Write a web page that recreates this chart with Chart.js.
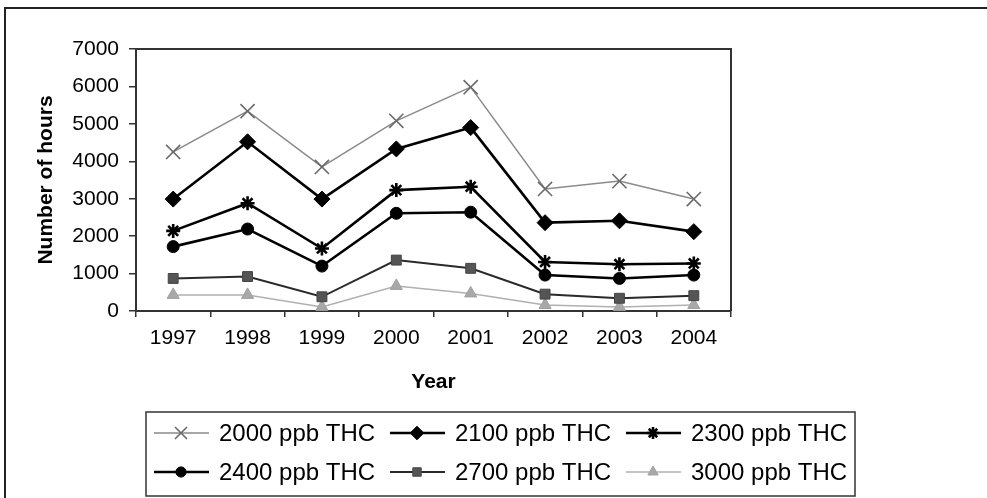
<!DOCTYPE html>
<html>
<head>
<meta charset="utf-8">
<script src="https://cdn.jsdelivr.net/npm/chart.js@4/dist/chart.umd.min.js"></script>
<style>
html,body{margin:0;padding:0;background:#fff;}
#wrap{width:987px;height:498px;position:relative;}
</style>
</head>
<body>
<div id="wrap"><canvas id="c" width="987" height="498"></canvas></div>
<script>
const years = ['1997','1998','1999','2000','2001','2002','2003','2004'];
const seriesNames = ['2000 ppb THC','2100 ppb THC','2300 ppb THC','2400 ppb THC','2700 ppb THC','3000 ppb THC'];
const thc2000 = [4250, 5340, 3850, 5080, 5980, 3260, 3470, 2990];
const thc2100 = [2990, 4520, 2990, 4330, 4900, 2360, 2410, 2120];
const thc2300 = [2140, 2880, 1670, 3230, 3320, 1310, 1250, 1270];
const thc2400 = [1720, 2190, 1200, 2610, 2640, 960, 870, 960];
const thc2700 = [870, 920, 380, 1360, 1140, 450, 340, 410];
const thc3000 = [430, 430, 110, 670, 470, 160, 110, 160];
const yTicks = [0, 1000, 2000, 3000, 4000, 5000, 6000, 7000];

const FONT = "'Liberation Sans', Arial, Helvetica, sans-serif";

const styles = [
  {line:'#8a8a8a', lw:1.5, pt:'crossRot', r:10, fill:'#777', stroke:'#6a6a6a', pbw:1.6},
  {line:'#000', lw:2.6, pt:'rectRot', r:8, fill:'#000', stroke:'#000', pbw:1},
  {line:'#000', lw:2.6, pt:'star', r:7, fill:'#000', stroke:'#000', pbw:2.6},
  {line:'#000', lw:2.6, pt:'circle', r:6, fill:'#000', stroke:'#000', pbw:1},
  {line:'#2a2a2a', lw:2, pt:'rect', r:7, fill:'#555', stroke:'#444', pbw:1},
  {line:'#b0b0b0', lw:1.5, pt:'triangle', r:7, fill:'#a8a8a8', stroke:'#a0a0a0', pbw:1}
];
const allData = [thc2000, thc2100, thc2300, thc2400, thc2700, thc3000];

const datasets = allData.map((d,i)=>({
  label: seriesNames[i],
  data: d,
  borderColor: styles[i].line,
  borderWidth: styles[i].lw,
  backgroundColor: styles[i].fill,
  pointStyle: styles[i].pt,
  pointRadius: styles[i].r,
  pointHoverRadius: styles[i].r,
  pointBackgroundColor: styles[i].fill,
  pointBorderColor: styles[i].stroke,
  pointBorderWidth: styles[i].pbw,
  tension: 0,
  fill: false
}));

function drawMarker(ctx, style, x, y, r, fill, stroke, bw){
  ctx.save();
  ctx.fillStyle = fill; ctx.strokeStyle = stroke; ctx.lineWidth = bw;
  ctx.beginPath();
  if (style==='circle'){ ctx.arc(x,y,r,0,Math.PI*2); ctx.fill(); ctx.stroke(); }
  else if (style==='rect'){ const s=r*Math.SQRT1_2; ctx.rect(x-s,y-s,2*s,2*s); ctx.fill(); ctx.stroke(); }
  else if (style==='rectRot'){ ctx.moveTo(x,y-r);ctx.lineTo(x+r,y);ctx.lineTo(x,y+r);ctx.lineTo(x-r,y);ctx.closePath(); ctx.fill(); ctx.stroke(); }
  else if (style==='triangle'){ ctx.moveTo(x,y-r);ctx.lineTo(x+r*0.866,y+r*0.5);ctx.lineTo(x-r*0.866,y+r*0.5);ctx.closePath(); ctx.fill(); ctx.stroke(); }
  else if (style==='crossRot'){ const o=r*Math.SQRT1_2; ctx.moveTo(x-o,y-o);ctx.lineTo(x+o,y+o);ctx.moveTo(x+o,y-o);ctx.lineTo(x-o,y+o); ctx.stroke(); }
  else if (style==='star'){ const o=r*Math.SQRT1_2; ctx.moveTo(x,y-r);ctx.lineTo(x,y+r);ctx.moveTo(x-r,y);ctx.lineTo(x+r,y);ctx.moveTo(x-o,y-o);ctx.lineTo(x+o,y+o);ctx.moveTo(x+o,y-o);ctx.lineTo(x-o,y+o); ctx.stroke(); }
  ctx.restore();
}

const framePlugin = {
  id:'frame',
  beforeDatasetsDraw(chart){
    const {ctx, chartArea:a} = chart;
    ctx.save();
    ctx.strokeStyle = '#333';
    ctx.lineWidth = 2;
    ctx.beginPath();
    ctx.moveTo(a.left, a.top); ctx.lineTo(a.right, a.top); ctx.lineTo(a.right, a.bottom);
    ctx.stroke();
    ctx.restore();
  },
  afterDraw(chart){
    const ctx = chart.ctx;
    ctx.save();
    ctx.strokeStyle = '#222';
    ctx.lineWidth = 2;
    ctx.beginPath();
    ctx.moveTo(5, 498); ctx.lineTo(5, 8); ctx.lineTo(987, 8);
    ctx.stroke();
    ctx.lineWidth = 1.5;
    ctx.strokeStyle = '#333';
    ctx.strokeRect(146, 412, 709, 84);
    ctx.font = "24px " + FONT;
    ctx.textBaseline = 'middle';
    ctx.textAlign = 'left';
    chart.data.datasets.forEach((ds, i)=>{
      const col = i % 3, row = Math.floor(i/3);
      const x0 = 154 + 236*col, y = 433 + 39*row;
      ctx.strokeStyle = ds.borderColor; ctx.lineWidth = ds.borderWidth;
      ctx.beginPath(); ctx.moveTo(x0, y); ctx.lineTo(x0+55, y); ctx.stroke();
      drawMarker(ctx, ds.pointStyle, x0+27, y, ds.pointRadius*0.85, ds.pointBackgroundColor, ds.pointBorderColor, ds.pointBorderWidth);
      ctx.fillStyle = '#000';
      ctx.fillText(ds.label, x0+65, y+1);
    });
    ctx.restore();
  }
};

new Chart(document.getElementById('c'), {
  type:'line',
  data:{ labels: years, datasets },
  plugins:[framePlugin],
  options:{
    responsive:false,
    animation:false,
    devicePixelRatio:1,
    layout:{ padding:{ top:49, right:256, left:0, bottom:0 } },
    plugins:{ legend:{ display:false }, tooltip:{ enabled:false } },
    scales:{
      x:{
        type:'category',
        offset:true,
        grid:{ offset:true, drawOnChartArea:false, drawTicks:true, tickLength:6, color:'#333', lineWidth:1.5 },
        border:{ display:true, color:'#333', width:2 },
        ticks:{ color:'#000', font:{ family:FONT, size:21 }, padding:9, maxRotation:0 },
        title:{ display:true, text:'Year', color:'#000', font:{ family:FONT, size:21, weight:'bold' }, padding:{ top:0, bottom:103 } },
        afterFit(scale){ scale.height = 187; }
      },
      y:{
        min:0, max:7000,
        afterBuildTicks(scale){ scale.ticks = yTicks.map(v=>({value:v})); },
        grid:{ drawOnChartArea:false, drawTicks:true, tickLength:7, color:'#333', lineWidth:1.5 },
        border:{ display:true, color:'#333', width:2 },
        ticks:{ color:'#000', font:{ family:FONT, size:21 }, padding:10, callback:(v)=>String(v) },
        title:{ display:true, text:'Number of hours', color:'#000', font:{ family:FONT, size:21, weight:'bold' }, padding:{ top:34, bottom:0 } },
        afterFit(scale){ scale.width = 136; }
      }
    }
  }
});
</script>
</body>
</html>
